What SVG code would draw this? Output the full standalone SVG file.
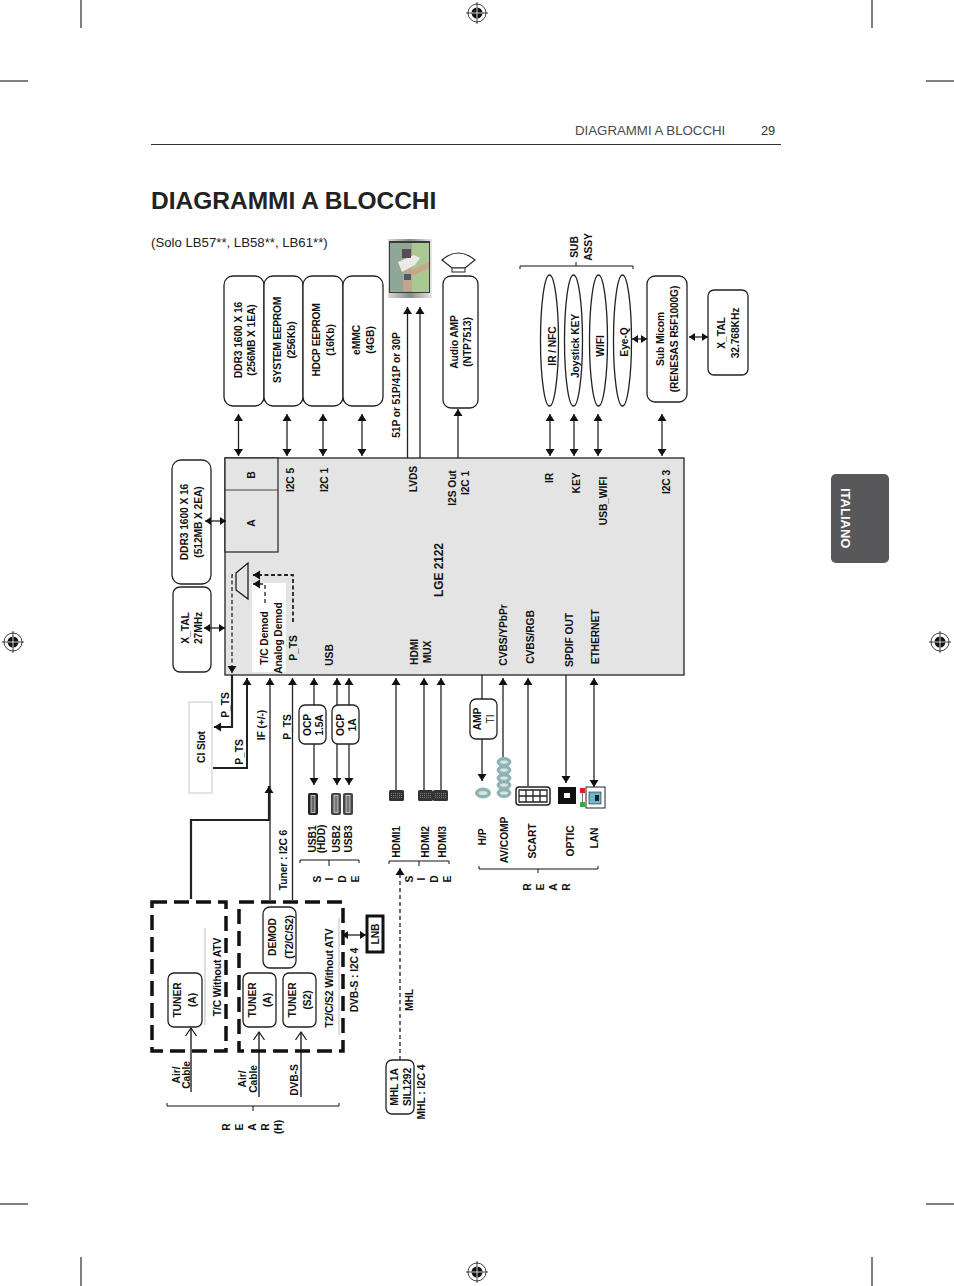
<svg xmlns="http://www.w3.org/2000/svg" width="954" height="1286" viewBox="0 0 954 1286">
<style>
text{font-family:"Liberation Sans",Arial,sans-serif;fill:#111}
.r{font-size:10.3px;font-weight:bold;text-anchor:middle;letter-spacing:-.1px}
.b{fill:#fff;stroke:#222;stroke-width:1.3}
.w{fill:none;stroke:#222;stroke-width:1.3}
.a{fill:none;stroke:#222;stroke-width:1.3;marker-end:url(#h)}
.d{fill:none;stroke:#222;stroke-width:1.3;marker-end:url(#h);marker-start:url(#h)}
.s{fill:none;stroke:#222;stroke-width:1.3;marker-end:url(#hs);marker-start:url(#hs)}
.dash{fill:none;stroke:#111;stroke-width:3.5;stroke-dasharray:15 7}
.m{fill:none;stroke:#111;stroke-width:1}
.crop{stroke:#000;stroke-width:1;fill:none}
.o{fill:#8fb3b5;stroke:#8fb3b5;stroke-width:1}
</style>
<defs>
<marker id="h" markerUnits="userSpaceOnUse" markerWidth="8" markerHeight="11" refX="7" refY="5.500" orient="auto-start-reverse"><path d="M0 1L7 5.500L0 10z" fill="#111"/></marker>
<marker id="hs" markerUnits="userSpaceOnUse" markerWidth="7" markerHeight="9" refX="6" refY="4.500" orient="auto-start-reverse"><path d="M0 0.500L6 4.500L0 8.500z" fill="#111"/></marker>
<marker id="c" markerUnits="userSpaceOnUse" markerWidth="11" markerHeight="13" refX="9" refY="6.500" orient="auto"><path d="M1 1L9 6.500L1 12" fill="none" stroke="#111" stroke-width="1.200"/></marker>
<linearGradient id="tvf" x1="0" y1="0" x2="1" y2="0"><stop offset="0" stop-color="#d8d8d4"/><stop offset=".5" stop-color="#8a8a88"/><stop offset="1" stop-color="#e8e8e6"/></linearGradient>
<g id="reg"><circle r="9" fill="#fff" stroke="#111" stroke-width=".8"/><circle r="5.500" fill="#111"/><path d="M-11 0H11M0-11V11" stroke="#111" stroke-width=".8"/><path d="M-5.500 0H5.500M0-5.500V5.500" stroke="#fff" stroke-width=".8"/></g>
<g id="usb"><rect x="0" y="0" width="10" height="22" rx="2" fill="#222"/><rect x="3" y="2.500" width="4" height="17" fill="#666" stroke="#ddd" stroke-width=".8"/></g>
<g id="usbg"><rect x="0" y="0" width="10" height="22" rx="2" fill="#444"/><rect x="3" y="2.500" width="4" height="17" fill="#777" stroke="#ddd" stroke-width=".8"/></g>
<g id="hdmi"><rect width="15" height="11" rx="1.500" fill="#333"/><path d="M2 3.500h11M2 5.500h11M2 7.500h11" stroke="#999" stroke-width=".7" stroke-dasharray="1 1"/></g>
</defs>

<g id="page">
<path class="crop" d="M81 0V28M872 0V28M0 81H28M926 81H954M0 1204H28M926 1204H954M81 1257V1286M872 1257V1286"/>
<use href="#reg" x="477" y="13"/><use href="#reg" x="477" y="1272"/><use href="#reg" x="13" y="642"/><use href="#reg" x="940" y="642"/>
<text x="575" y="135" font-size="13.250" style="fill:#4a4a4a">DIAGRAMMI A BLOCCHI</text>
<text x="761" y="135" font-size="12.800" style="fill:#333">29</text>
<path d="M151 144.500H781" stroke="#333" stroke-width="1"/>
<text x="151" y="209" font-size="24.500" font-weight="bold" style="fill:#222">DIAGRAMMI A BLOCCHI</text>
<text x="151" y="247" font-size="13.200" style="fill:#222">(Solo LB57**, LB58**, LB61**)</text>
</g>

<g id="tab">
<rect x="831" y="474" width="58" height="89" rx="5" fill="#58585a"/>
<text transform="translate(841,488) rotate(90)" font-size="13" font-weight="bold" style="fill:#fff">ITALIANO</text>
</g>

<g id="brackets">
<path class="m" d="M520 269V266H633V269M576 266V262"/>
<path class="m" d="M300 863V860H359V863M329 860V866"/>
<path class="m" d="M389 864V861H449V864M419 861V866"/>
<path class="m" d="M479 866V869H598V866M538 869V873"/>
<path class="m" d="M167 1103V1106H339V1103M253 1106V1111"/>
<text class="r" transform="translate(592,247) rotate(-90)"><tspan x="0" y="-14">SUB</tspan><tspan x="0" y="0">ASSY</tspan></text>
<text class="r" transform="translate(321,879) rotate(-90)">S</text><text class="r" transform="translate(333,879) rotate(-90)">I</text><text class="r" transform="translate(346,879) rotate(-90)">D</text><text class="r" transform="translate(359,879) rotate(-90)">E</text>
<text class="r" transform="translate(413,879) rotate(-90)">S</text><text class="r" transform="translate(425,879) rotate(-90)">I</text><text class="r" transform="translate(438,879) rotate(-90)">D</text><text class="r" transform="translate(451,879) rotate(-90)">E</text>
<text class="r" transform="translate(531,887) rotate(-90)">R</text><text class="r" transform="translate(544,887) rotate(-90)">E</text><text class="r" transform="translate(557,887) rotate(-90)">A</text><text class="r" transform="translate(570,887) rotate(-90)">R</text>
<text class="r" transform="translate(230,1127) rotate(-90)">R</text><text class="r" transform="translate(243,1127) rotate(-90)">E</text><text class="r" transform="translate(256,1127) rotate(-90)">A</text><text class="r" transform="translate(269,1127) rotate(-90)">R</text><text class="r" transform="translate(282,1127) rotate(-90)">(H)</text>
</g>

<g id="lge2122">
<rect x="225" y="458" width="459" height="217" fill="#e4e4e4" stroke="#222" stroke-width="1.300"/>
<rect x="225" y="458" width="53" height="94" fill="#e4e4e4" stroke="#222" stroke-width="1.200"/>
<path d="M225 490H278" stroke="#444" stroke-width="1"/>
<polygon points="236,573 248,563 248,599 236,590" fill="#e4e4e4" stroke="#111" stroke-width="1.200"/>
<rect x="252" y="583" width="34" height="89" fill="#fff"/>
<path class="a" d="M293 622V575H253" stroke-dasharray="4 2.500" style="stroke-width:1.800"/>
<path class="a" d="M265 603V584H253" stroke-dasharray="4 3"/>
<path class="a" d="M233 575H232V673" stroke-dasharray="4 2.500"/>
<text class="r" transform="translate(255,475) rotate(-90)">B</text>
<text class="r" transform="translate(255,523) rotate(-90)">A</text>
<text class="r" transform="translate(294,480) rotate(-90)">I2C 5</text>
<text class="r" transform="translate(328,480) rotate(-90)">I2C 1</text>
<text class="r" transform="translate(417,479) rotate(-90)">LVDS</text>
<text class="r" transform="translate(456,488) rotate(-90)">I2S Out</text>
<text class="r" transform="translate(469,483) rotate(-90)">I2C 1</text>
<text class="r" transform="translate(553,478) rotate(-90)">IR</text>
<text class="r" transform="translate(580,483) rotate(-90)">KEY</text>
<text class="r" transform="translate(607,501) rotate(-90)">USB_WIFI</text>
<text class="r" transform="translate(670,482) rotate(-90)">I2C 3</text>
<text class="r" transform="translate(443,570) rotate(-90)" style="font-size:12px">LGE 2122</text>
<text class="r" transform="translate(268,638) rotate(-90)">T/C  Demod</text>
<text class="r" transform="translate(282,638) rotate(-90)">Analog Demod</text>
<text class="r" transform="translate(297,648) rotate(-90)">P_TS</text>
<text class="r" transform="translate(333,655) rotate(-90)">USB</text>
<text class="r" transform="translate(418,652) rotate(-90)">HDMI</text>
<text class="r" transform="translate(431,652) rotate(-90)">MUX</text>
<text class="r" transform="translate(507,635) rotate(-90)">CVBS/YPbPr</text>
<text class="r" transform="translate(534,637) rotate(-90)">CVBS/RGB</text>
<text class="r" transform="translate(573,640) rotate(-90)">SPDIF OUT</text>
<text class="r" transform="translate(599,637) rotate(-90)">ETHERNET</text>
</g>

<g id="ddr3"><rect class="b" x="224" y="276" width="40" height="130" rx="9"/><text class="r" transform="translate(242,340) rotate(-90)">DDR3  1600 X 16</text><text class="r" transform="translate(255,340) rotate(-90)">(256MB X 1EA)</text></g>
<g id="system-eeprom"><rect class="b" x="264" y="276" width="39" height="130" rx="9"/><text class="r" transform="translate(281,340) rotate(-90)" style="letter-spacing:-.3px">SYSTEM EEPROM</text><text class="r" transform="translate(295,340) rotate(-90)">(256Kb)</text></g>
<g id="hdcp-eeprom"><rect class="b" x="303" y="276" width="40" height="130" rx="9"/><text class="r" transform="translate(320,340) rotate(-90)" style="letter-spacing:-.3px">HDCP EEPROM</text><text class="r" transform="translate(334,340) rotate(-90)">(16Kb)</text></g>
<g id="emmc"><rect class="b" x="343" y="276" width="40" height="130" rx="9"/><text class="r" transform="translate(360,340) rotate(-90)">eMMC</text><text class="r" transform="translate(374,340) rotate(-90)">(4GB)</text></g>

<g id="tv-panel">
<rect x="388" y="239" width="44" height="59" fill="url(#tvf)"/>
<rect x="389" y="241" width="41" height="52" fill="#3a3a3a"/>
<rect x="390" y="243" width="39" height="49" fill="#8fa896"/>
<rect x="412" y="243" width="17" height="49" fill="#a9c892"/>
<rect x="403" y="264" width="9" height="27" fill="#c4a48c"/>
<path d="M412 270L429 262V268L412 276z" fill="#c9a888"/>
<path d="M398 262L414 255L420 258L415 265L402 272z" fill="#eceae6"/>
<rect x="402" y="249" width="9" height="9" fill="#5a4a58"/>
<rect x="404" y="274" width="7" height="6" fill="#4c5a70"/>
</g>
<g id="speaker"><path d="M442 260Q458 246 475 260L465 268H452Z" fill="#fff" stroke="#222" stroke-width="1.200"/><rect x="452" y="268" width="13" height="4" fill="#fff" stroke="#222"/></g>
<g id="audio-amp"><rect class="b" x="443" y="276" width="35" height="132" rx="8"/><text class="r" transform="translate(458,342) rotate(-90)">Audio AMP</text><text class="r" transform="translate(471,342) rotate(-90)">(NTP7513)</text></g>

<g id="ir-nfc"><ellipse class="b" cx="549.500" cy="340.500" rx="9" ry="65.500"/><text class="r" transform="translate(556,346) rotate(-90)">IR / NFC</text></g>
<g id="joystick-key"><ellipse class="b" cx="573.500" cy="340.500" rx="9" ry="65.500"/><text class="r" transform="translate(579,346) rotate(-90)">Joystick KEY</text></g>
<g id="wifi"><ellipse class="b" cx="598.500" cy="340.500" rx="9" ry="65.500"/><text class="r" transform="translate(604,346) rotate(-90)">WIFI</text></g>
<g id="eye-q"><ellipse class="b" cx="622.500" cy="340.500" rx="9" ry="65.500"/><text class="r" transform="translate(628,342) rotate(-90)">Eye-Q</text></g>
<g id="sub-micom"><rect class="b" x="647" y="276" width="40" height="126" rx="8"/><text class="r" transform="translate(664,339) rotate(-90)">Sub Micom</text><text class="r" transform="translate(678,339) rotate(-90)" style="letter-spacing:-.2px">(RENESAS R5F1000G)</text></g>
<g id="xtal-32k"><rect class="b" x="708" y="290" width="40" height="85" rx="6"/><text class="r" transform="translate(725,333) rotate(-90)">X_TAL</text><text class="r" transform="translate(739,333) rotate(-90)">32.768KHz</text></g>
<g id="ddr3-2ea"><rect class="b" x="172" y="460" width="39" height="124" rx="9"/><text class="r" transform="translate(188,522) rotate(-90)">DDR3 1600 X 16</text><text class="r" transform="translate(202,522) rotate(-90)">(512MB X 2EA)</text></g>
<g id="xtal-27m"><rect class="b" x="173" y="587" width="38" height="85" rx="7"/><text class="r" transform="translate(189,628) rotate(-90)">X_TAL</text><text class="r" transform="translate(202,628) rotate(-90)">27MHz</text></g>

<g id="ci-slot"><rect x="189" y="702" width="23" height="91" fill="#fff" stroke="#c8c8c8"/><text class="r" transform="translate(205,747) rotate(-90)">CI Slot</text></g>
<g id="ocp-15"><rect class="b" x="299" y="705" width="27" height="39" rx="6"/><text class="r" transform="translate(311,725) rotate(-90)">OCP</text><text class="r" transform="translate(323,725) rotate(-90)">1.5A</text></g>
<g id="ocp-1"><rect class="b" x="332" y="705" width="27" height="39" rx="6"/><text class="r" transform="translate(344,725) rotate(-90)">OCP</text><text class="r" transform="translate(356,725) rotate(-90)">1A</text></g>
<g id="amp-ti"><rect class="b" x="470" y="699" width="27" height="40" rx="6"/><text class="r" transform="translate(481,719) rotate(-90)">AMP</text><text class="r" transform="translate(494,719) rotate(-90)" style="font-weight:normal">TI</text></g>

<g id="usb1"><use href="#usb" x="308" y="793"/><text class="r" transform="translate(316,839) rotate(-90)">USB1</text><text class="r" transform="translate(325,839) rotate(-90)">(HDD)</text></g>
<g id="usb2"><use href="#usbg" x="331" y="793"/><text class="r" transform="translate(340,839) rotate(-90)">USB2</text></g>
<g id="usb3"><use href="#usbg" x="343" y="793"/><text class="r" transform="translate(352,839) rotate(-90)">USB3</text></g>
<g id="hdmi1"><use href="#hdmi" x="389" y="790"/><text class="r" transform="translate(400,842) rotate(-90)">HDMI1</text></g>
<g id="hdmi2"><use href="#hdmi" x="418" y="790"/><text class="r" transform="translate(429,842) rotate(-90)">HDMI2</text></g>
<g id="hdmi3"><use href="#hdmi" x="433" y="790"/><text class="r" transform="translate(446,842) rotate(-90)">HDMI3</text></g>
<g id="hp"><ellipse class="o" cx="483" cy="793" rx="7.500" ry="5"/><ellipse cx="483" cy="793" rx="4.500" ry="2" fill="#d5e3e3"/><text class="r" transform="translate(486,837) rotate(-90)">H/P</text></g>
<g id="av-comp">
<ellipse class="o" cx="504" cy="762" rx="7" ry="4.500"/><ellipse cx="504" cy="762" rx="4" ry="1.800" fill="#d5e3e3"/>
<ellipse class="o" cx="504" cy="770" rx="7" ry="4.500"/><ellipse cx="504" cy="770" rx="4" ry="1.800" fill="#d5e3e3"/>
<ellipse class="o" cx="504" cy="778" rx="7" ry="4.500"/><ellipse cx="504" cy="778" rx="4" ry="1.800" fill="#d5e3e3"/>
<ellipse class="o" cx="504" cy="785" rx="7" ry="4.500"/><ellipse cx="504" cy="785" rx="4" ry="1.800" fill="#d5e3e3"/>
<ellipse class="o" cx="504" cy="793" rx="7" ry="4.500"/><ellipse cx="504" cy="793" rx="4" ry="1.800" fill="#d5e3e3"/>
<text class="r" transform="translate(508,840) rotate(-90)">AV/COMP</text></g>
<g id="scart"><rect x="516" y="787" width="34" height="18" rx="3" fill="#fff" stroke="#222" stroke-width="1.500"/>
<path d="M519 790h28v12h-28zM519 796h28M526 790v12M533 790v12M540 790v12" fill="none" stroke="#222" stroke-width="1.300"/>
<text class="r" transform="translate(536,841) rotate(-90)">SCART</text></g>
<g id="optic"><rect x="558" y="787" width="18" height="17" fill="#111"/><rect x="564" y="793" width="6" height="5" fill="#fff"/><text class="r" transform="translate(574,841) rotate(-90)">OPTIC</text></g>
<g id="lan"><rect x="586" y="787" width="19" height="21" fill="#fff" stroke="#222"/><rect x="589" y="792" width="12" height="12" fill="#6cb8c8" stroke="#222" stroke-width=".6"/><rect x="595" y="795" width="4" height="6" fill="#123"/>
<rect x="580" y="788" width="5" height="5" fill="#e02020"/><rect x="580" y="802" width="5" height="5" fill="#30b030"/><path d="M582.500 793V802" stroke="#777"/>
<text class="r" transform="translate(598,838) rotate(-90)">LAN</text></g>

<g id="tc-without-atv">
<path class="dash" d="M152 902H226V1051H152Z"/>
<path d="M205 928V1025" stroke="#bbb" stroke-width="1"/>
<text class="r" transform="translate(221,977) rotate(-90)">T/C Without ATV</text>
</g>
<g id="t2-without-atv">
<path class="dash" d="M239 902H343V1051H239Z"/>
<path d="M339 918V1035" stroke="#bbb" stroke-width="1"/>
<text class="r" transform="translate(333,978) rotate(-90)">T2/C/S2 Without ATV</text>
</g>
<g id="tuner-a1"><rect class="b" x="168" y="973" width="34" height="54" rx="6"/><text class="r" transform="translate(181,1000) rotate(-90)">TUNER</text><text class="r" transform="translate(196,1000) rotate(-90)">(A)</text></g>
<g id="tuner-a2"><rect class="b" x="243" y="973" width="33" height="54" rx="6"/><text class="r" transform="translate(256,1000) rotate(-90)">TUNER</text><text class="r" transform="translate(271,1000) rotate(-90)">(A)</text></g>
<g id="tuner-s2"><rect class="b" x="283" y="973" width="33" height="54" rx="6"/><text class="r" transform="translate(296,1000) rotate(-90)">TUNER</text><text class="r" transform="translate(311,1000) rotate(-90)">(S2)</text></g>
<g id="demod"><rect class="b" x="263" y="907" width="33" height="61" rx="7"/><text class="r" transform="translate(276,937) rotate(-90)">DEMOD</text><text class="r" transform="translate(293,937) rotate(-90)">(T2/C/S2)</text></g>
<g id="lnb"><rect x="367" y="916" width="16" height="36" fill="#fff" stroke="#111" stroke-width="3"/><text class="r" transform="translate(379,934) rotate(-90)">LNB</text></g>
<g id="mhl"><rect class="b" x="386" y="1060" width="28" height="54" rx="6"/><text class="r" transform="translate(398,1087) rotate(-90)">MHL 1A</text><text class="r" transform="translate(411,1087) rotate(-90)">SIL1292</text></g>

<g id="labels">
<text class="r" transform="translate(229,705) rotate(-90)">P_TS</text>
<text class="r" transform="translate(243,752) rotate(-90)">P_TS</text>
<text class="r" transform="translate(265,725) rotate(-90)">IF (+/-)</text>
<text class="r" transform="translate(291,727) rotate(-90)">P_TS</text>
<text class="r" transform="translate(287,860) rotate(-90)">Tuner : I2C 6</text>
<text class="r" transform="translate(358,980) rotate(-90)">DVB-S : I2C 4</text>
<text class="r" transform="translate(413,1000) rotate(-90)">MHL</text>
<text class="r" transform="translate(425,1092) rotate(-90)">MHL : I2C 4</text>
<text class="r" transform="translate(180,1075) rotate(-90)">Air/</text><text class="r" transform="translate(190,1075) rotate(-90)">Cable</text>
<text class="r" transform="translate(246,1079) rotate(-90)">Air/</text><text class="r" transform="translate(257,1079) rotate(-90)">Cable</text>
<text class="r" transform="translate(298,1080) rotate(-90)">DVB-S</text>
<text class="r" transform="translate(400,385) rotate(-90)">51P or 51P/41P or 30P</text>
</g>

<g id="connectors">
<path class="d" d="M238.500 414V456"/><path class="d" d="M287 414V456"/><path class="d" d="M323 414V456"/><path class="d" d="M362 414V456"/>
<path class="a" d="M407.500 458V307"/><path class="a" d="M420 458V307"/><path class="a" d="M458 458V409"/>
<path class="d" d="M550 414V456"/><path class="d" d="M574 414V456"/><path class="d" d="M598 414V456"/><path class="d" d="M662 414V456"/>
<path class="s" d="M632 339H647"/><path class="s" d="M689 337H708"/>
<path class="s" d="M205 521H226"/><path class="s" d="M204 628H225"/>
<path class="a" d="M232 675V727H214" style="stroke-width:2.200"/>
<path class="a" d="M213 768H247V678" style="stroke-width:2"/>
<path class="a" d="M270 900V678"/>
<path class="a" d="M191 899V820H269V786" style="stroke-width:2.200"/>
<path class="a" d="M292.500 900V678"/>
<path class="a" d="M314 705V678"/><path class="a" d="M314 744V785"/>
<path class="a" d="M337 705V678"/><path class="a" d="M337 744V785"/>
<path class="a" d="M349 705V678"/><path class="a" d="M349 744V785"/>
<path class="a" d="M396 790V678"/><path class="a" d="M424 790V678"/><path class="a" d="M441 790V678"/>
<path class="w" d="M482 675V699"/><path class="a" d="M482 739V781"/>
<path class="a" d="M503 757V678"/><path class="a" d="M528 786V678"/>
<path class="a" d="M566 675V783"/><path class="d" d="M594 678V787"/>
<path fill="none" stroke="#111" stroke-width="1.300" marker-end="url(#c)" d="M191 1092V1028"/>
<path fill="none" stroke="#111" stroke-width="1.300" marker-end="url(#c)" d="M259 1097V1032"/>
<path fill="none" stroke="#111" stroke-width="1.300" marker-end="url(#c)" d="M301 1097V1032"/>
<path class="s" d="M342 935H366"/>
<path class="a" d="M400 1060V868" stroke-dasharray="4 3"/>
</g>
</svg>
